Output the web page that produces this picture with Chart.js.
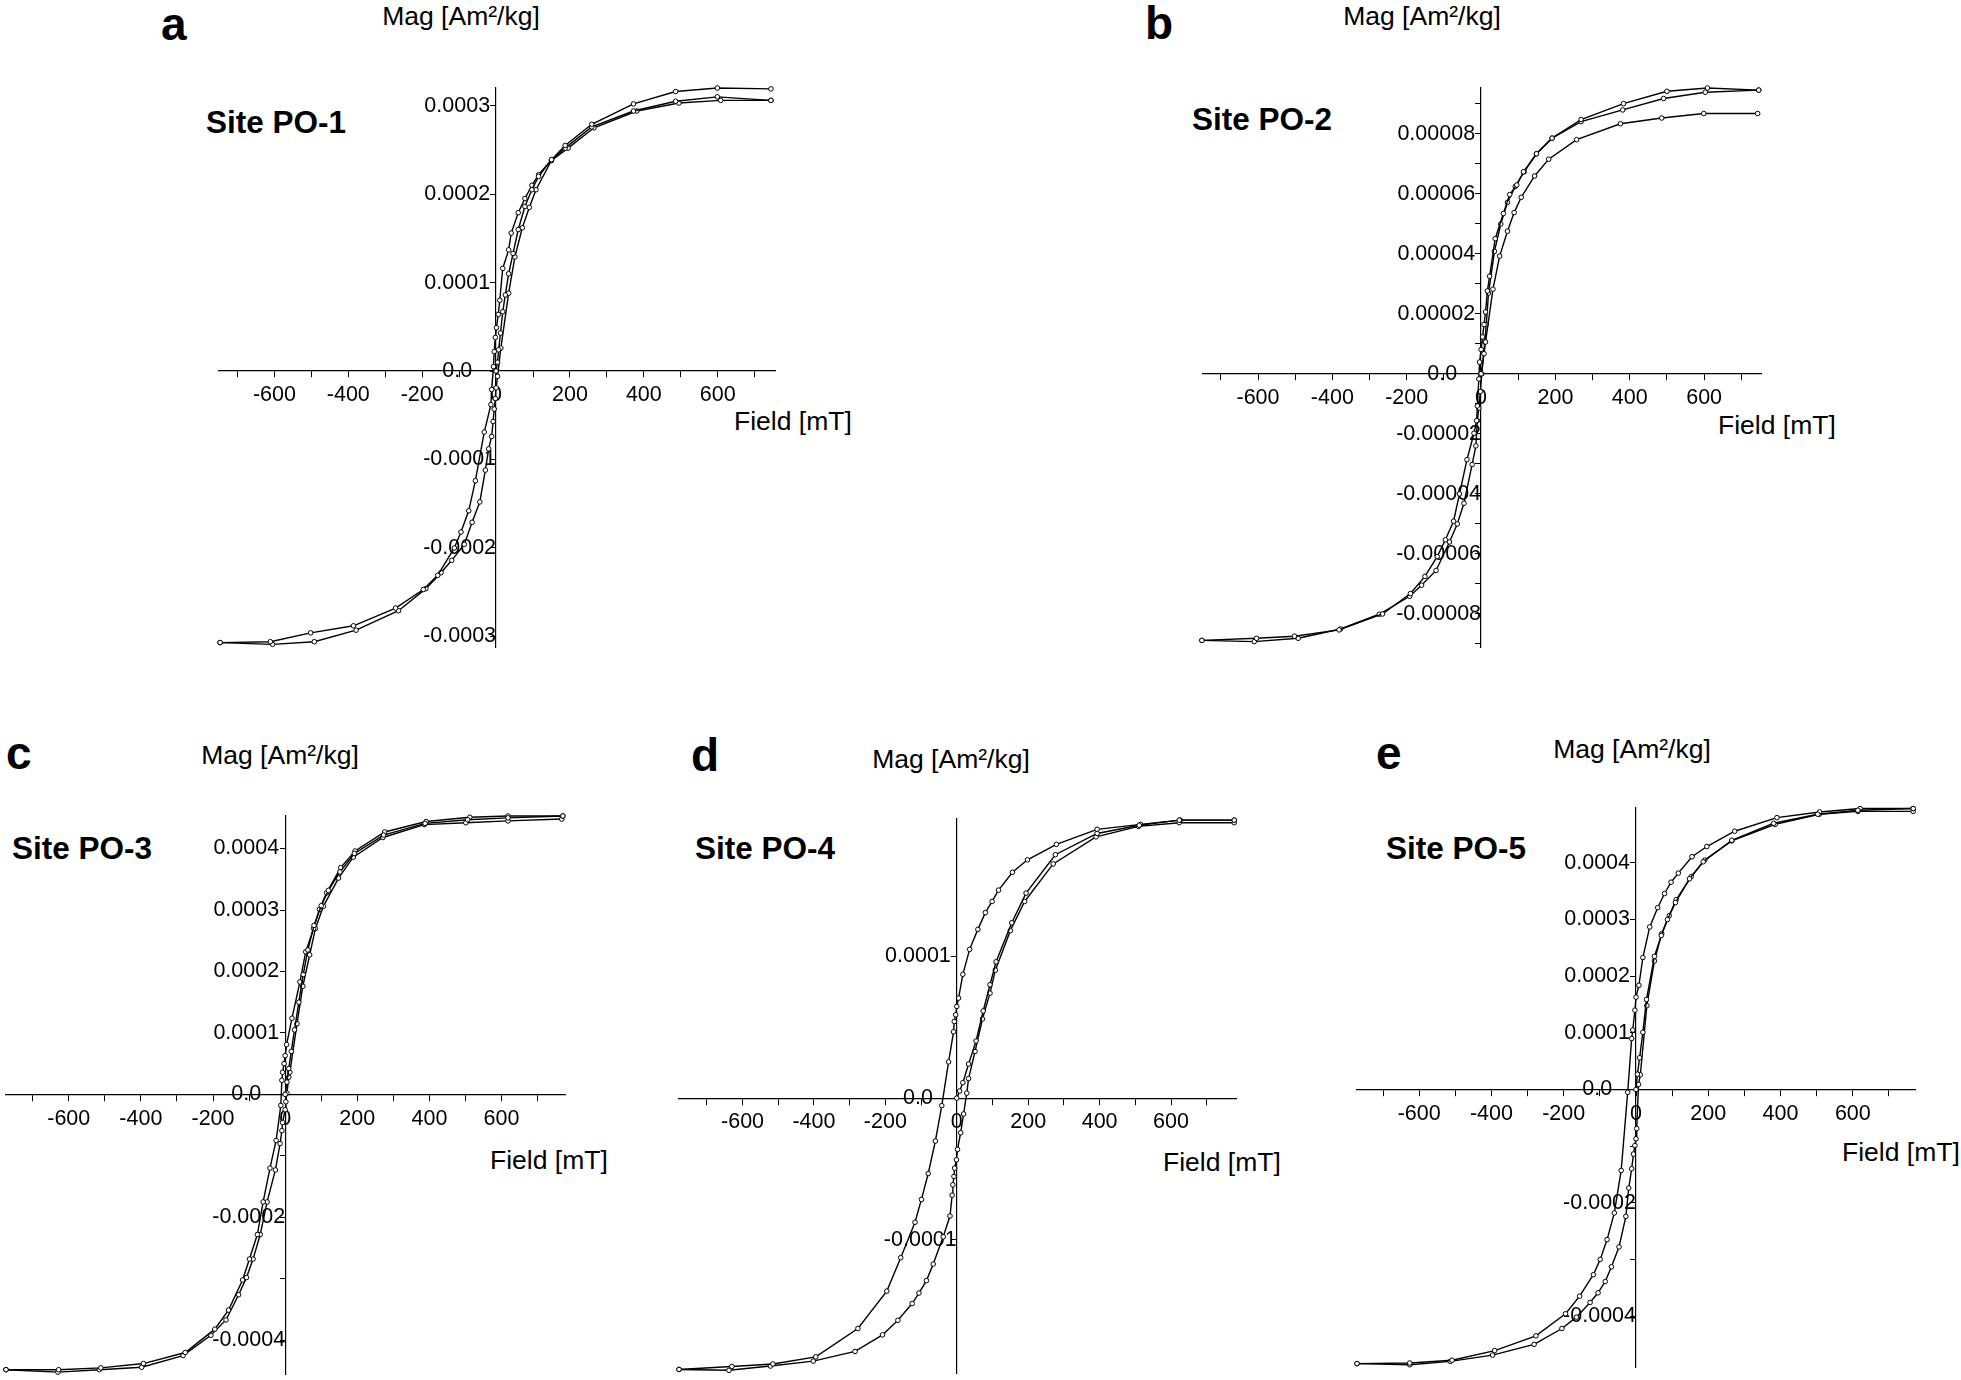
<!DOCTYPE html>
<html lang="en">
<head>
<meta charset="UTF-8">
<title>Hysteresis loops, sites PO-1 to PO-5</title>
<script src="https://cdn.jsdelivr.net/npm/chart.js"></script>
<style>
  body { margin: 0; width: 1961px; height: 1380px; background: #fff; position: relative; overflow: hidden;
         font-family: "Liberation Sans", Arial, sans-serif; color: #000; }
  canvas { position: absolute; }
  .lbl { position: absolute; line-height: 1; white-space: nowrap; }
  .letter { font-size: 46px; font-weight: bold; }
  .mag { font-size: 26.5px; width: 240px; text-align: center; }
  .site { font-size: 31.5px; font-weight: bold; }
  .field { font-size: 26.5px; }
</style>
</head>
<body>

<div class="lbl letter" style="left:161px; top:1px;">a</div>
<div class="lbl mag" style="left:341px; top:3px;">Mag [Am²/kg]</div>
<div class="lbl site" style="left:206px; top:107px;">Site PO-1</div>
<div class="lbl field" style="left:734px; top:408px;">Field [mT]</div>
<canvas id="chartA"></canvas>

<div class="lbl letter" style="left:1145px; top:0px;">b</div>
<div class="lbl mag" style="left:1302px; top:3px;">Mag [Am²/kg]</div>
<div class="lbl site" style="left:1192px; top:104px;">Site PO-2</div>
<div class="lbl field" style="left:1718px; top:412px;">Field [mT]</div>
<canvas id="chartB"></canvas>

<div class="lbl letter" style="left:6px; top:730px;">c</div>
<div class="lbl mag" style="left:160px; top:742px;">Mag [Am²/kg]</div>
<div class="lbl site" style="left:12px; top:833px;">Site PO-3</div>
<div class="lbl field" style="left:490px; top:1147px;">Field [mT]</div>
<canvas id="chartC"></canvas>

<div class="lbl letter" style="left:691px; top:732px;">d</div>
<div class="lbl mag" style="left:831px; top:746px;">Mag [Am²/kg]</div>
<div class="lbl site" style="left:695px; top:833px;">Site PO-4</div>
<div class="lbl field" style="left:1163px; top:1149px;">Field [mT]</div>
<canvas id="chartD"></canvas>

<div class="lbl letter" style="left:1376px; top:730px;">e</div>
<div class="lbl mag" style="left:1512px; top:736px;">Mag [Am²/kg]</div>
<div class="lbl site" style="left:1386px; top:833px;">Site PO-5</div>
<div class="lbl field" style="left:1842px; top:1139px;">Field [mT]</div>
<canvas id="chartE"></canvas>

<script>
// ---- site PO-1 (Am2/kg) ----
const fieldA_ini = [0, 4, 7, 12, 18, 25, 34, 46, 60, 78, 97, 115, 150, 187, 259, 372, 486, 599, 744];
const magA_ini = [0, 0.10e-4, 0.24e-4, 0.43e-4, 0.67e-4, 0.86e-4, 1.10e-4, 1.33e-4, 1.60e-4, 1.86e-4, 2.05e-4, 2.20e-4, 2.39e-4, 2.55e-4, 2.79e-4, 3.02e-4, 3.16e-4, 3.20e-4, 3.19e-4];
const fieldA_down = [744, 599, 486, 372, 259, 187, 150, 115, 97, 78, 60, 41, 34, 18, 10, 6, 1, -2, -5, -7, -12, -14, -32, -56, -74, -95, -113, -158, -197, -272, -386, -502, -611, -747];
const magA_down = [3.06e-4, 3.10e-4, 3.05e-4, 2.94e-4, 2.76e-4, 2.52e-4, 2.39e-4, 2.22e-4, 2.10e-4, 1.95e-4, 1.79e-4, 1.56e-4, 1.37e-4, 1.16e-4, 0.80e-4, 0.64e-4, 0.49e-4, 0.38e-4, 0.22e-4, 0.05e-4, -0.21e-4, -0.38e-4, -0.69e-4, -1.24e-4, -1.58e-4, -1.82e-4, -2.00e-4, -2.31e-4, -2.47e-4, -2.68e-4, -2.88e-4, -2.96e-4, -3.06e-4, -3.07e-4];
const fieldA_up = [-747, -605, -492, -379, -264, -190, -149, -120, -86, -65, -44, -29, -20, -12, -8, -5, -2, 0, 4, 13, 34, 51, 71, 90, 108, 150, 195, 265, 381, 495, 608, 744];
const magA_up = [-3.07e-4, -3.09e-4, -3.06e-4, -2.93e-4, -2.71e-4, -2.46e-4, -2.28e-4, -2.14e-4, -1.96e-4, -1.71e-4, -1.48e-4, -1.12e-4, -0.88e-4, -0.74e-4, -0.57e-4, -0.43e-4, -0.31e-4, -0.19e-4, -0.06e-4, 0.26e-4, 0.88e-4, 1.29e-4, 1.62e-4, 1.85e-4, 2.05e-4, 2.38e-4, 2.52e-4, 2.75e-4, 2.94e-4, 3.03e-4, 3.06e-4, 3.06e-4];

// ---- site PO-2 ----
const fieldB_ini = [0, 8, 12, 32, 50, 71, 89, 108, 144, 182, 257, 375, 486, 599, 744];
const magB_ini = [0, 0.67e-5, 1.06e-5, 2.82e-5, 3.92e-5, 4.75e-5, 5.37e-5, 5.88e-5, 6.59e-5, 7.15e-5, 7.80e-5, 8.33e-5, 8.52e-5, 8.67e-5, 8.67e-5];
const fieldB_down = [747, 609, 500, 383, 269, 191, 149, 114, 96, 77, 60, 38, 23, 17, 12, 8, 4, 0, -4, -6, -10, -12, -19, -38, -58, -74, -96, -118, -151, -190, -265, -382, -502, -604, -751];
const magB_down = [9.45e-5, 9.52e-5, 9.41e-5, 9.00e-5, 8.47e-5, 7.85e-5, 7.33e-5, 6.73e-5, 6.29e-5, 5.97e-5, 5.34e-5, 4.50e-5, 3.25e-5, 2.76e-5, 2.06e-5, 1.64e-5, 1.23e-5, 0.81e-5, 0.39e-5, -0.17e-5, -1.07e-5, -1.56e-5, -1.98e-5, -2.86e-5, -4.00e-5, -4.91e-5, -5.53e-5, -6.09e-5, -6.75e-5, -7.32e-5, -8.00e-5, -8.53e-5, -8.74e-5, -8.81e-5, -8.88e-5];
const fieldB_up = [-751, -610, -492, -378, -274, -192, -160, -121, -85, -64, -46, -24, -14, -10, -6, -2, 2, 10, 14, 20, 36, 53, 71, 92, 116, 149, 191, 269, 381, 491, 603, 747];
const magB_up = [-8.88e-5, -8.92e-5, -8.81e-5, -8.50e-5, -8.01e-5, -7.41e-5, -7.04e-5, -6.55e-5, -5.60e-5, -5.00e-5, -4.31e-5, -3.02e-5, -2.40e-5, -1.56e-5, -1.14e-5, -0.59e-5, 0, 1.06e-5, 1.64e-5, 2.69e-5, 4.08e-5, 4.99e-5, 5.71e-5, 6.24e-5, 6.73e-5, 7.33e-5, 7.85e-5, 8.40e-5, 8.79e-5, 9.17e-5, 9.38e-5, 9.45e-5];

// ---- site PO-3 ----
const fieldC_ini = [0, 5, 10, 17, 26, 38, 50, 63, 80, 100, 120, 152, 192, 273, 388, 506, 618, 770];
const magC_ini = [0, 0.20e-4, 0.42e-4, 0.70e-4, 1.05e-4, 1.50e-4, 1.95e-4, 2.35e-4, 2.75e-4, 3.07e-4, 3.32e-4, 3.62e-4, 3.92e-4, 4.22e-4, 4.41e-4, 4.47e-4, 4.50e-4, 4.53e-4];
const fieldC_down = [770, 618, 512, 391, 276, 194, 154, 115, 95, 79, 57, 41, 19, 4, 0, -3, -7, -9, -12, -25, -42, -61, -77, -99, -118, -157, -195, -277, -393, -511, -628, -774];
const magC_down = [4.53e-4, 4.53e-4, 4.51e-4, 4.44e-4, 4.27e-4, 3.96e-4, 3.69e-4, 3.28e-4, 3.01e-4, 2.70e-4, 2.32e-4, 1.83e-4, 1.24e-4, 0.81e-4, 0.63e-4, 0.50e-4, 0.36e-4, 0.23e-4, -0.18e-4, -0.75e-4, -1.20e-4, -1.75e-4, -2.28e-4, -2.68e-4, -3.02e-4, -3.51e-4, -3.82e-4, -4.20e-4, -4.38e-4, -4.45e-4, -4.48e-4, -4.48e-4];
const fieldC_up = [-774, -630, -515, -398, -283, -206, -164, -129, -107, -89, -69, -50, -27, -14, -9, -7, 0, 2, 5, 10, 13, 33, 49, 68, 84, 106, 148, 189, 271, 386, 501, 618, 767];
const magC_up = [-4.48e-4, -4.52e-4, -4.48e-4, -4.44e-4, -4.25e-4, -3.92e-4, -3.67e-4, -3.26e-4, -2.98e-4, -2.68e-4, -2.28e-4, -1.75e-4, -1.23e-4, -0.80e-4, -0.59e-4, -0.46e-4, -0.25e-4, -0.12e-4, 0.02e-4, 0.28e-4, 0.36e-4, 1.15e-4, 1.76e-4, 2.27e-4, 2.70e-4, 3.06e-4, 3.52e-4, 3.86e-4, 4.18e-4, 4.39e-4, 4.42e-4, 4.45e-4, 4.48e-4];

// ---- site PO-4 ----
const fieldD_ini = [0, 8, 17, 33, 54, 74, 93, 110, 154, 194, 276, 393, 511, 623, 777];
const magD_ini = [0, 0.50e-5, 1.09e-5, 2.41e-5, 4.03e-5, 6.15e-5, 8.00e-5, 9.62e-5, 12.38e-5, 14.47e-5, 17.18e-5, 18.68e-5, 19.26e-5, 19.62e-5, 19.62e-5];
const fieldD_down = [777, 626, 515, 393, 279, 198, 156, 117, 99, 80, 59, 36, 17, 5, 0, -3, -7, -9, -23, -42, -60, -80, -99, -117, -157, -196, -277, -395, -515, -630, -778];
const magD_down = [19.62e-5, 19.62e-5, 19.32e-5, 18.97e-5, 17.91e-5, 16.82e-5, 15.94e-5, 14.68e-5, 13.88e-5, 13.09e-5, 11.91e-5, 10.50e-5, 8.74e-5, 7.06e-5, 6.47e-5, 5.88e-5, 5.41e-5, 4.68e-5, 2.56e-5, -0.53e-5, -3.03e-5, -5.32e-5, -7.15e-5, -8.76e-5, -11.26e-5, -13.62e-5, -16.26e-5, -18.26e-5, -18.76e-5, -18.94e-5, -19.15e-5];
const fieldD_up = [-778, -638, -522, -402, -285, -208, -165, -125, -106, -85, -66, -38, -19, -13, -11, -8, -6, -1, 2, 11, 19, 28, 33, 51, 72, 93, 108, 150, 190, 270, 390, 509, 623, 777];
const magD_up = [-19.15e-5, -19.21e-5, -18.91e-5, -18.56e-5, -17.88e-5, -16.71e-5, -15.68e-5, -14.50e-5, -13.76e-5, -12.88e-5, -11.71e-5, -9.79e-5, -8.32e-5, -6.85e-5, -6.12e-5, -5.53e-5, -4.94e-5, -4.35e-5, -3.62e-5, -2.44e-5, -1.12e-5, 0.35e-5, 1.38e-5, 3.29e-5, 5.59e-5, 7.41e-5, 9.03e-5, 11.82e-5, 13.88e-5, 16.53e-5, 18.44e-5, 19.18e-5, 19.44e-5, 19.44e-5];

// ---- site PO-5 ----
const fieldE_ini = [0, 4, 10, 19, 29, 51, 70, 87, 109, 148, 186, 265, 381, 503, 614, 767];
const magE_ini = [0, 0.27e-4, 0.56e-4, 1.01e-4, 1.59e-4, 2.35e-4, 2.72e-4, 3.00e-4, 3.30e-4, 3.72e-4, 4.02e-4, 4.40e-4, 4.70e-4, 4.86e-4, 4.93e-4, 4.96e-4];
const fieldE_down = [767, 620, 508, 390, 273, 196, 155, 117, 97, 79, 60, 38, 19, 8, 0, -3, -9, -12, -23, -41, -60, -80, -99, -118, -156, -195, -277, -391, -509, -626, -772];
const magE_down = [4.96e-4, 4.96e-4, 4.90e-4, 4.80e-4, 4.56e-4, 4.29e-4, 4.11e-4, 3.82e-4, 3.66e-4, 3.46e-4, 3.21e-4, 2.87e-4, 2.33e-4, 1.84e-4, 1.63e-4, 1.40e-4, 1.05e-4, 0.90e-4, -0.05e-4, -1.43e-4, -2.18e-4, -2.65e-4, -3.00e-4, -3.27e-4, -3.65e-4, -3.96e-4, -4.35e-4, -4.61e-4, -4.78e-4, -4.83e-4, -4.84e-4];
const fieldE_up = [-772, -626, -514, -397, -282, -205, -165, -127, -105, -85, -68, -47, -28, -20, -12, -7, -3, 0, 2, 7, 12, 30, 51, 71, 92, 111, 153, 190, 265, 385, 507, 614, 767];
const magE_up = [-4.84e-4, -4.86e-4, -4.80e-4, -4.69e-4, -4.50e-4, -4.22e-4, -4.02e-4, -3.76e-4, -3.59e-4, -3.39e-4, -3.13e-4, -2.78e-4, -2.24e-4, -1.74e-4, -1.40e-4, -1.14e-4, -0.99e-4, -0.87e-4, -0.69e-4, 0.09e-4, 0.26e-4, 1.48e-4, 2.27e-4, 2.75e-4, 3.07e-4, 3.35e-4, 3.76e-4, 4.05e-4, 4.39e-4, 4.68e-4, 4.86e-4, 4.91e-4, 4.91e-4];

// ---- ticks ----
const fieldTicks = [-700, -600, -500, -400, -300, -200, -100, 0, 100, 200, 300, 400, 500, 600, 700];
const fieldTickLabels = ['', '-600', '', '-400', '', '-200', '', '0', '', '200', '', '400', '', '600', ''];

const magTicksA = [-3e-4, -2e-4, -1e-4, 0, 1e-4, 2e-4, 3e-4];
const magLabelsA = ['-0.0003', '-0.0002', '-0.0001', '0.0', '0.0001', '0.0002', '0.0003'];
const magTicksB = [-9e-5, -8e-5, -7e-5, -6e-5, -5e-5, -4e-5, -3e-5, -2e-5, -1e-5, 0, 1e-5, 2e-5, 3e-5, 4e-5, 5e-5, 6e-5, 7e-5, 8e-5, 9e-5];
const magLabelsB = ['', '-0.00008', '', '-0.00006', '', '-0.00004', '', '-0.00002', '', '0.0', '', '0.00002', '', '0.00004', '', '0.00006', '', '0.00008', ''];
const magTicksC = [-4e-4, -3e-4, -2e-4, -1e-4, 0, 1e-4, 2e-4, 3e-4, 4e-4];
const magLabelsC = ['-0.0004', '', '-0.0002', '', '0.0', '0.0001', '0.0002', '0.0003', '0.0004'];
const magTicksD = [-1e-4, 0, 1e-4];
const magLabelsD = ['-0.0001', '0.0', '0.0001'];
const magTicksE = [-4e-4, -3e-4, -2e-4, -1e-4, 0, 1e-4, 2e-4, 3e-4, 4e-4];
const magLabelsE = ['-0.0004', '', '-0.0002', '', '0.0', '0.0001', '0.0002', '0.0003', '0.0004'];

// axis ranges
const fieldRangeA = [-750, 755], magRangeA = [-3.12e-4, 3.20e-4];
const fieldRangeB = [-748, 753], magRangeB = [-9.1e-5, 9.52e-5];
const fieldRangeC = [-774, 776], magRangeC = [-4.55e-4, 4.53e-4];
const fieldRangeD = [-778, 782], magRangeD = [-1.94e-4, 1.97e-4];
const fieldRangeE = [-772, 772], magRangeE = [-4.9e-4, 4.97e-4];

const fontFam = '"Liberation Sans", Arial, sans-serif';
const PAD = 30;
const NBSP = '\u00A0';

function serie(fx, my) {
    let pts = [];
    for (let i = 0; i < fx.length; i++) pts.push({ x: fx[i], y: my[i] });
    return {
        data: pts,
        showLine: true,
        borderColor: '#000',
        borderWidth: 1.4,
        pointRadius: 2.3,
        pointBorderWidth: 1,
        pointBackgroundColor: '#fff',
        pointBorderColor: '#000',
        tension: 0,
        clip: false
    };
}

// labels of the vertical axis sit a little off the axis line, "0.0" further
function recuo(txt) {
    if (txt === '') return '';
    if (txt === '0.0') return txt + NBSP.repeat(4);
    if (txt.charAt(0) === '-') return txt;
    return txt + NBSP;
}

// area = [left, right, top, bottom] of the plot box on the page
function desenha(id, area, xr, yr, yTicks, yLabels, series) {
    const cv = document.getElementById(id);
    const w = Math.round(area[1] - area[0]) + 2 * PAD;
    const h = Math.round(area[3] - area[2]) + 2 * PAD;
    cv.width = w; cv.height = h;
    cv.style.width = w + 'px'; cv.style.height = h + 'px';
    cv.style.left = Math.round(area[0] - PAD) + 'px';
    cv.style.top = Math.round(area[2] - PAD) + 'px';

    new Chart(cv, {
        type: 'scatter',
        data: { datasets: series },
        options: {
            responsive: false,
            animation: false,
            devicePixelRatio: 1,
            events: [],
            layout: { padding: PAD },
            plugins: { legend: { display: false }, tooltip: { enabled: false } },
            scales: {
                x: {
                    type: 'linear', position: { y: 0 }, min: xr[0], max: xr[1],
                    afterBuildTicks: s => { s.ticks = fieldTicks.map(v => ({ value: v })); },
                    afterFit: s => { s.height = 0; },
                    grid: { display: true, drawOnChartArea: false, drawTicks: true, tickLength: 6, tickColor: '#000', tickWidth: 1 },
                    border: { display: true, color: '#000', width: 1.2 },
                    ticks: {
                        autoSkip: false, maxRotation: 0, minRotation: 0,
                        padding: 5.5, color: '#000', font: { family: fontFam, size: 21.5 },
                        callback: (v, i) => fieldTickLabels[i]
                    }
                },
                y: {
                    type: 'linear', position: { x: 0 }, min: yr[0], max: yr[1],
                    afterBuildTicks: s => { s.ticks = yTicks.map(v => ({ value: v })); },
                    afterFit: s => { s.width = 0; },
                    grid: { display: true, drawOnChartArea: false, drawTicks: true, tickLength: 5, tickColor: '#000', tickWidth: 1 },
                    border: { display: true, color: '#000', width: 1.2 },
                    ticks: {
                        autoSkip: false,
                        padding: 4, color: '#000', font: { family: fontFam, size: 21.5 },
                        callback: (v, i) => recuo(yLabels[i])
                    }
                }
            }
        }
    });
}

desenha('chartA', [219, 775, 87.5, 646.6], fieldRangeA, magRangeA, magTicksA, magLabelsA,
    [serie(fieldA_ini, magA_ini), serie(fieldA_down, magA_down), serie(fieldA_up, magA_up)]);
desenha('chartB', [1203, 1761, 87.5, 646.6], fieldRangeB, magRangeB, magTicksB, magLabelsB,
    [serie(fieldB_ini, magB_ini), serie(fieldB_down, magB_down), serie(fieldB_up, magB_up)]);
desenha('chartC', [6, 565, 815.5, 1373], fieldRangeC, magRangeC, magTicksC, magLabelsC,
    [serie(fieldC_ini, magC_ini), serie(fieldC_down, magC_down), serie(fieldC_up, magC_up)]);
desenha('chartD', [679, 1236, 819, 1373], fieldRangeD, magRangeD, magTicksD, magLabelsD,
    [serie(fieldD_ini, magD_ini), serie(fieldD_down, magD_down), serie(fieldD_up, magD_up)]);
desenha('chartE', [1357, 1915, 808, 1367], fieldRangeE, magRangeE, magTicksE, magLabelsE,
    [serie(fieldE_ini, magE_ini), serie(fieldE_down, magE_down), serie(fieldE_up, magE_up)]);
</script>
</body>
</html>
